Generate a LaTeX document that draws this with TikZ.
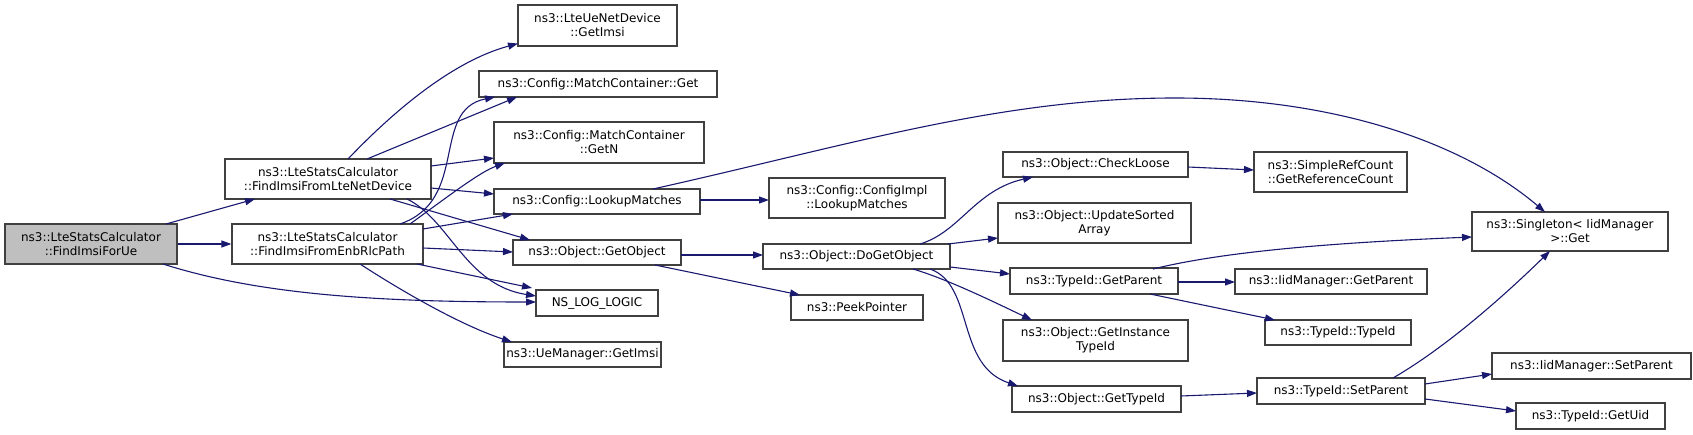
\documentclass[tikz,border=0pt]{standalone}
\usepackage{fontspec}
\setmainfont{DejaVu Sans}
\usetikzlibrary{arrows.meta}
\definecolor{edgec}{HTML}{191970}
\definecolor{boxc}{HTML}{404040}
\begin{document}
\begin{tikzpicture}[x=1pt,y=-1pt,
  box/.style={draw=boxc, line width=1.2pt, fill=white, align=center, inner sep=0pt, font=\fontsize{12}{14}\selectfont, text=black},
  focus/.style={box, fill=black!25},
  edge/.style={draw=edgec, line width=1.1pt, -{Triangle[length=10pt,width=7pt]}}]
\useasboundingbox (0,0) rectangle (1693,435);
% nodes
\node[focus, minimum width=172pt, minimum height=40pt] (ue) at (91,244) {ns3::LteStatsCalculator\\::FindImsiForUe};
\node[box, minimum width=206pt, minimum height=40pt] (lte) at (328,179) {ns3::LteStatsCalculator\\::FindImsiFromLteNetDevice};
\node[box, minimum width=191pt, minimum height=40pt] (enb) at (327.5,244) {ns3::LteStatsCalculator\\::FindImsiFromEnbRlcPath};
\node[box, minimum width=159pt, minimum height=41pt] (ueimsi) at (597.5,25.5) {ns3::LteUeNetDevice\\::GetImsi};
\node[box, minimum width=238pt, minimum height=26pt] (mcget) at (598,84) {ns3::Config::MatchContainer::Get};
\node[box, minimum width=210pt, minimum height=41pt] (mcgetn) at (599,142.5) {ns3::Config::MatchContainer\\::GetN};
\node[box, minimum width=206pt, minimum height=25pt] (lookup) at (597,201.5) {ns3::Config::LookupMatches};
\node[box, minimum width=168pt, minimum height=25pt] (getobj) at (597,252.5) {ns3::Object::GetObject};
\node[box, minimum width=122pt, minimum height=26pt] (nslog) at (597,303) {NS\_LOG\_LOGIC};
\node[box, minimum width=157pt, minimum height=25pt] (uemgr) at (582.5,354.5) {ns3::UeManager::GetImsi};
\node[box, minimum width=176pt, minimum height=40pt] (cfgimpl) at (857,198) {ns3::Config::ConfigImpl\\::LookupMatches};
\node[box, minimum width=187pt, minimum height=25pt] (dogetobj) at (856.5,256.5) {ns3::Object::DoGetObject};
\node[box, minimum width=132pt, minimum height=25pt] (peek) at (857,307.5) {ns3::PeekPointer};
\node[box, minimum width=185pt, minimum height=25pt] (checkloose) at (1095.5,164.5) {ns3::Object::CheckLoose};
\node[box, minimum width=193pt, minimum height=40pt] (update) at (1094.5,223) {ns3::Object::UpdateSorted\\Array};
\node[box, minimum width=168pt, minimum height=26pt] (tgetparent) at (1094,281) {ns3::TypeId::GetParent};
\node[box, minimum width=185pt, minimum height=41pt] (getinst) at (1095.5,340.5) {ns3::Object::GetInstance\\TypeId};
\node[box, minimum width=169pt, minimum height=26pt] (gettypeid) at (1096.5,399) {ns3::Object::GetTypeId};
\node[box, minimum width=153pt, minimum height=40pt] (simpleref) at (1330.5,172) {ns3::SimpleRefCount\\::GetReferenceCount};
\node[box, minimum width=192pt, minimum height=25pt] (iidgetparent) at (1331,281.5) {ns3::IidManager::GetParent};
\node[box, minimum width=146pt, minimum height=25pt] (typeid) at (1338,332.5) {ns3::TypeId::TypeId};
\node[box, minimum width=168pt, minimum height=26pt] (setparent) at (1341,391) {ns3::TypeId::SetParent};
\node[box, minimum width=196pt, minimum height=39pt] (singleton) at (1570,231.5) {ns3::Singleton< IidManager\\>::Get};
\node[box, minimum width=199pt, minimum height=26pt] (iidsetparent) at (1591.5,366) {ns3::IidManager::SetParent};
\node[box, minimum width=149pt, minimum height=26pt] (getuid) at (1590.5,416) {ns3::TypeId::GetUid};
% edges
\draw[edge] ([shift={(75,-20)}]ue.center) -- ([shift={(-73,20)}]lte.center);
\draw[edge] (ue.east) -- (enb.west);
\draw[edge] ([shift={(72,20)}]ue.center) .. controls (260,295) and (380,302) .. ([shift={(-61,-1)}]nslog.center);
\draw[edge] ([shift={(20,-20)}]lte.center) .. controls (390,115) and (450,62) .. ([shift={(-79.5,18)}]ueimsi.center);
\draw[edge] ([shift={(39,-20)}]lte.center) -- ([shift={(-81,13)}]mcget.center);
\draw[edge] ([shift={(103,-13)}]lte.center) -- ([shift={(-105,15.5)}]mcgetn.center);
\draw[edge] ([shift={(103,9)}]lte.center) -- ([shift={(-103,-7.5)}]lookup.center);
\draw[edge] ([shift={(62,20)}]lte.center) -- ([shift={(-67,-12.5)}]getobj.center);
\draw[edge] ([shift={(79,20)}]lte.center) .. controls (450,220) and (465,285) .. ([shift={(-61,-7)}]nslog.center);
\draw[edge] ([shift={(72.5,-20)}]enb.center) .. controls (470,200) and (430,110) .. ([shift={(-103,13)}]mcget.center);
\draw[edge] ([shift={(82.5,-20)}]enb.center) .. controls (450,195) and (480,172) .. ([shift={(-94,20.5)}]mcgetn.center);
\draw[edge] ([shift={(95.5,-15)}]enb.center) -- ([shift={(-84,12.5)}]lookup.center);
\draw[edge] ([shift={(95.5,4)}]enb.center) -- ([shift={(-84,-0.5)}]getobj.center);
\draw[edge] ([shift={(89.5,20)}]enb.center) -- ([shift={(-65,-15)}]nslog.center);
\draw[edge] ([shift={(32.5,20)}]enb.center) .. controls (400,290) and (460,325) .. ([shift={(-70.5,-12.5)}]uemgr.center);
\draw[edge] ([shift={(103,-1.5)}]lookup.center) -- ([shift={(-88,2)}]cfgimpl.center);
\draw[edge] ([shift={(56,-12.5)}]lookup.center) .. controls (850,145) and (1000,98) .. (1175,98) .. controls (1330,98) and (1460,140) .. ([shift={(-25,-19.5)}]singleton.center);
\draw[edge] ([shift={(84,2.5)}]getobj.center) -- ([shift={(-93.5,-1.5)}]dogetobj.center);
\draw[edge] ([shift={(58,12.5)}]getobj.center) -- ([shift={(-57,-12.5)}]peek.center);
\draw[edge] ([shift={(63.5,-12.5)}]dogetobj.center) .. controls (960,232) and (975,190) .. ([shift={(-62.5,12.5)}]checkloose.center);
\draw[edge] ([shift={(91.5,-12.5)}]dogetobj.center) -- ([shift={(-96.5,15)}]update.center);
\draw[edge] ([shift={(93.5,10.5)}]dogetobj.center) -- ([shift={(-84,-7)}]tgetparent.center);
\draw[edge] ([shift={(56.5,12.5)}]dogetobj.center) .. controls (950,280) and (1000,305) .. ([shift={(-63.5,-20.5)}]getinst.center);
\draw[edge] ([shift={(73.5,12.5)}]dogetobj.center) .. controls (975,285) and (955,365) .. ([shift={(-78.5,-13)}]gettypeid.center);
\draw[edge] ([shift={(92.5,2.5)}]checkloose.center) -- ([shift={(-76.5,-2)}]simpleref.center);
\draw[edge] ([shift={(59,-12)}]tgetparent.center) .. controls (1230,250) and (1350,242) .. ([shift={(-98,5.5)}]singleton.center);
\draw[edge] ([shift={(84,1)}]tgetparent.center) -- ([shift={(-96,0.5)}]iidgetparent.center);
\draw[edge] ([shift={(56,13)}]tgetparent.center) -- ([shift={(-63,-12.5)}]typeid.center);
\draw[edge] ([shift={(84.5,-3)}]gettypeid.center) -- ([shift={(-84,2)}]setparent.center);
\draw[edge] ([shift={(52,-13)}]setparent.center) .. controls (1450,345) and (1510,290) .. ([shift={(-20,19.5)}]singleton.center);
\draw[edge] ([shift={(84,-7)}]setparent.center) -- ([shift={(-99.5,8)}]iidsetparent.center);
\draw[edge] ([shift={(84,8)}]setparent.center) -- ([shift={(-74.5,-5)}]getuid.center);
\end{tikzpicture}
\end{document}
